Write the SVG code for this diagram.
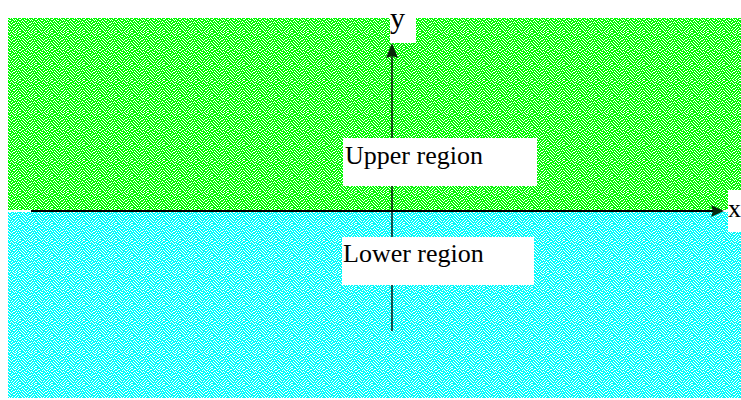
<svg xmlns="http://www.w3.org/2000/svg" width="741" height="400" viewBox="0 0 741 400">
  <style>
    .lbl { font-family: "Liberation Serif", "Times New Roman", serif; fill: #000; }
    .box { fill: #fff; }
    .axis { stroke: #000; fill: none; }
  </style>
  <defs>
    <!-- dithered fill tiles: base colour with scattered white and shaded pixels -->
    <path id="whitePx" d="M0 0h1v1h-1zM3 0h2v1h-2zM9 0h1v1h-1zM13 0h1v1h-1zM2 1h1v1h-1zM6 1h2v1h-2zM11 1h1v1h-1zM14 1h2v1h-2zM1 2h1v1h-1zM5 2h1v1h-1zM10 2h1v1h-1zM12 2h1v1h-1zM3 3h2v1h-2zM8 3h1v1h-1zM13 3h1v1h-1zM15 3h1v1h-1zM0 4h1v1h-1zM6 4h1v1h-1zM9 4h2v1h-2zM14 4h1v1h-1zM2 5h1v1h-1zM5 5h1v1h-1zM7 5h1v1h-1zM12 5h1v1h-1zM1 6h1v1h-1zM3 6h1v1h-1zM8 6h1v1h-1zM11 6h1v1h-1zM15 6h1v1h-1zM4 7h1v1h-1zM6 7h1v1h-1zM9 7h1v1h-1zM13 7h2v1h-2zM0 8h1v1h-1zM2 8h1v1h-1zM7 8h1v1h-1zM10 8h1v1h-1zM12 8h1v1h-1zM5 9h1v1h-1zM8 9h1v1h-1zM11 9h1v1h-1zM15 9h1v1h-1zM1 10h1v1h-1zM3 10h1v1h-1zM6 10h1v1h-1zM9 10h1v1h-1zM13 10h2v1h-2zM0 11h1v1h-1zM4 11h1v1h-1zM7 11h1v1h-1zM10 11h1v1h-1zM2 12h1v1h-1zM5 12h1v1h-1zM8 12h1v1h-1zM12 12h1v1h-1zM15 12h1v1h-1zM1 13h1v1h-1zM6 13h1v1h-1zM9 13h1v1h-1zM11 13h1v1h-1zM14 13h1v1h-1zM0 14h1v1h-1zM3 14h2v1h-2zM7 14h1v1h-1zM13 14h1v1h-1zM2 15h1v1h-1zM8 15h1v1h-1zM10 15h1v1h-1zM12 15h1v1h-1zM15 15h1v1h-1z"/>
    <path id="shadePx" d="M7 0h1v1h-1zM12 1h1v1h-1zM3 2h1v1h-1zM14 2h1v1h-1zM10 3h1v1h-1zM4 4h1v1h-1zM15 5h1v1h-1zM9 6h1v1h-1zM2 7h1v1h-1zM14 8h1v1h-1zM6 9h1v1h-1zM0 9h1v1h-1zM11 10h1v1h-1zM13 11h1v1h-1zM3 12h1v1h-1zM10 12h1v1h-1zM4 13h1v1h-1zM9 14h1v1h-1zM15 14h1v1h-1zM5 15h1v1h-1z"/>
    <pattern id="fillGreen" width="16" height="16" patternUnits="userSpaceOnUse">
      <rect width="16" height="16" fill="#00ff00"/>
      <use href="#shadePx" fill="#22cc22"/>
      <use href="#whitePx" fill="#ffffff"/>
    </pattern>
    <pattern id="fillCyan" width="16" height="16" patternUnits="userSpaceOnUse">
      <rect width="16" height="16" fill="#00ffff"/>
      <use href="#shadePx" fill="#22dddd"/>
      <use href="#whitePx" fill="#ffffff"/>
    </pattern>
  </defs>

  <rect width="741" height="400" fill="#fff"/>

  <!-- half-plane regions -->
  <g id="upper-plane">
    <rect x="8" y="18" width="733" height="192" fill="url(#fillGreen)"/>
  </g>
  <g id="lower-plane">
    <rect x="8" y="212" width="733" height="186" fill="url(#fillCyan)"/>
  </g>

  <!-- axes -->
  <g id="connectors">
    <line class="axis" x1="31" y1="211" x2="714" y2="211" stroke-width="2"/>
    <polygon points="724,211 711,205 713,211 711,217" fill="#0a2a12"/>
    <line class="axis" x1="392" y1="331" x2="392" y2="52" stroke-width="1.6" stroke-opacity="0.85"/>
    <polygon points="392,43 386,58 392,56 398,58" fill="#0a2a0a"/>
  </g>

  <!-- labels -->
  <g id="label-y">
    <rect class="box" x="390" y="0" width="26" height="43"/>
    <text class="lbl" x="390" y="28" font-size="30">y</text>
  </g>
  <g id="label-x">
    <rect class="box" x="728" y="190" width="13" height="42"/>
    <text class="lbl" x="728" y="217" font-size="26">x</text>
  </g>
  <g id="label-upper">
    <rect class="box" x="343" y="138" width="194" height="48"/>
    <text class="lbl" x="345" y="164" font-size="26">Upper region</text>
  </g>
  <g id="label-lower">
    <rect class="box" x="342" y="237" width="192" height="48"/>
    <text class="lbl" x="343" y="262" font-size="26">Lower region</text>
  </g>
</svg>
